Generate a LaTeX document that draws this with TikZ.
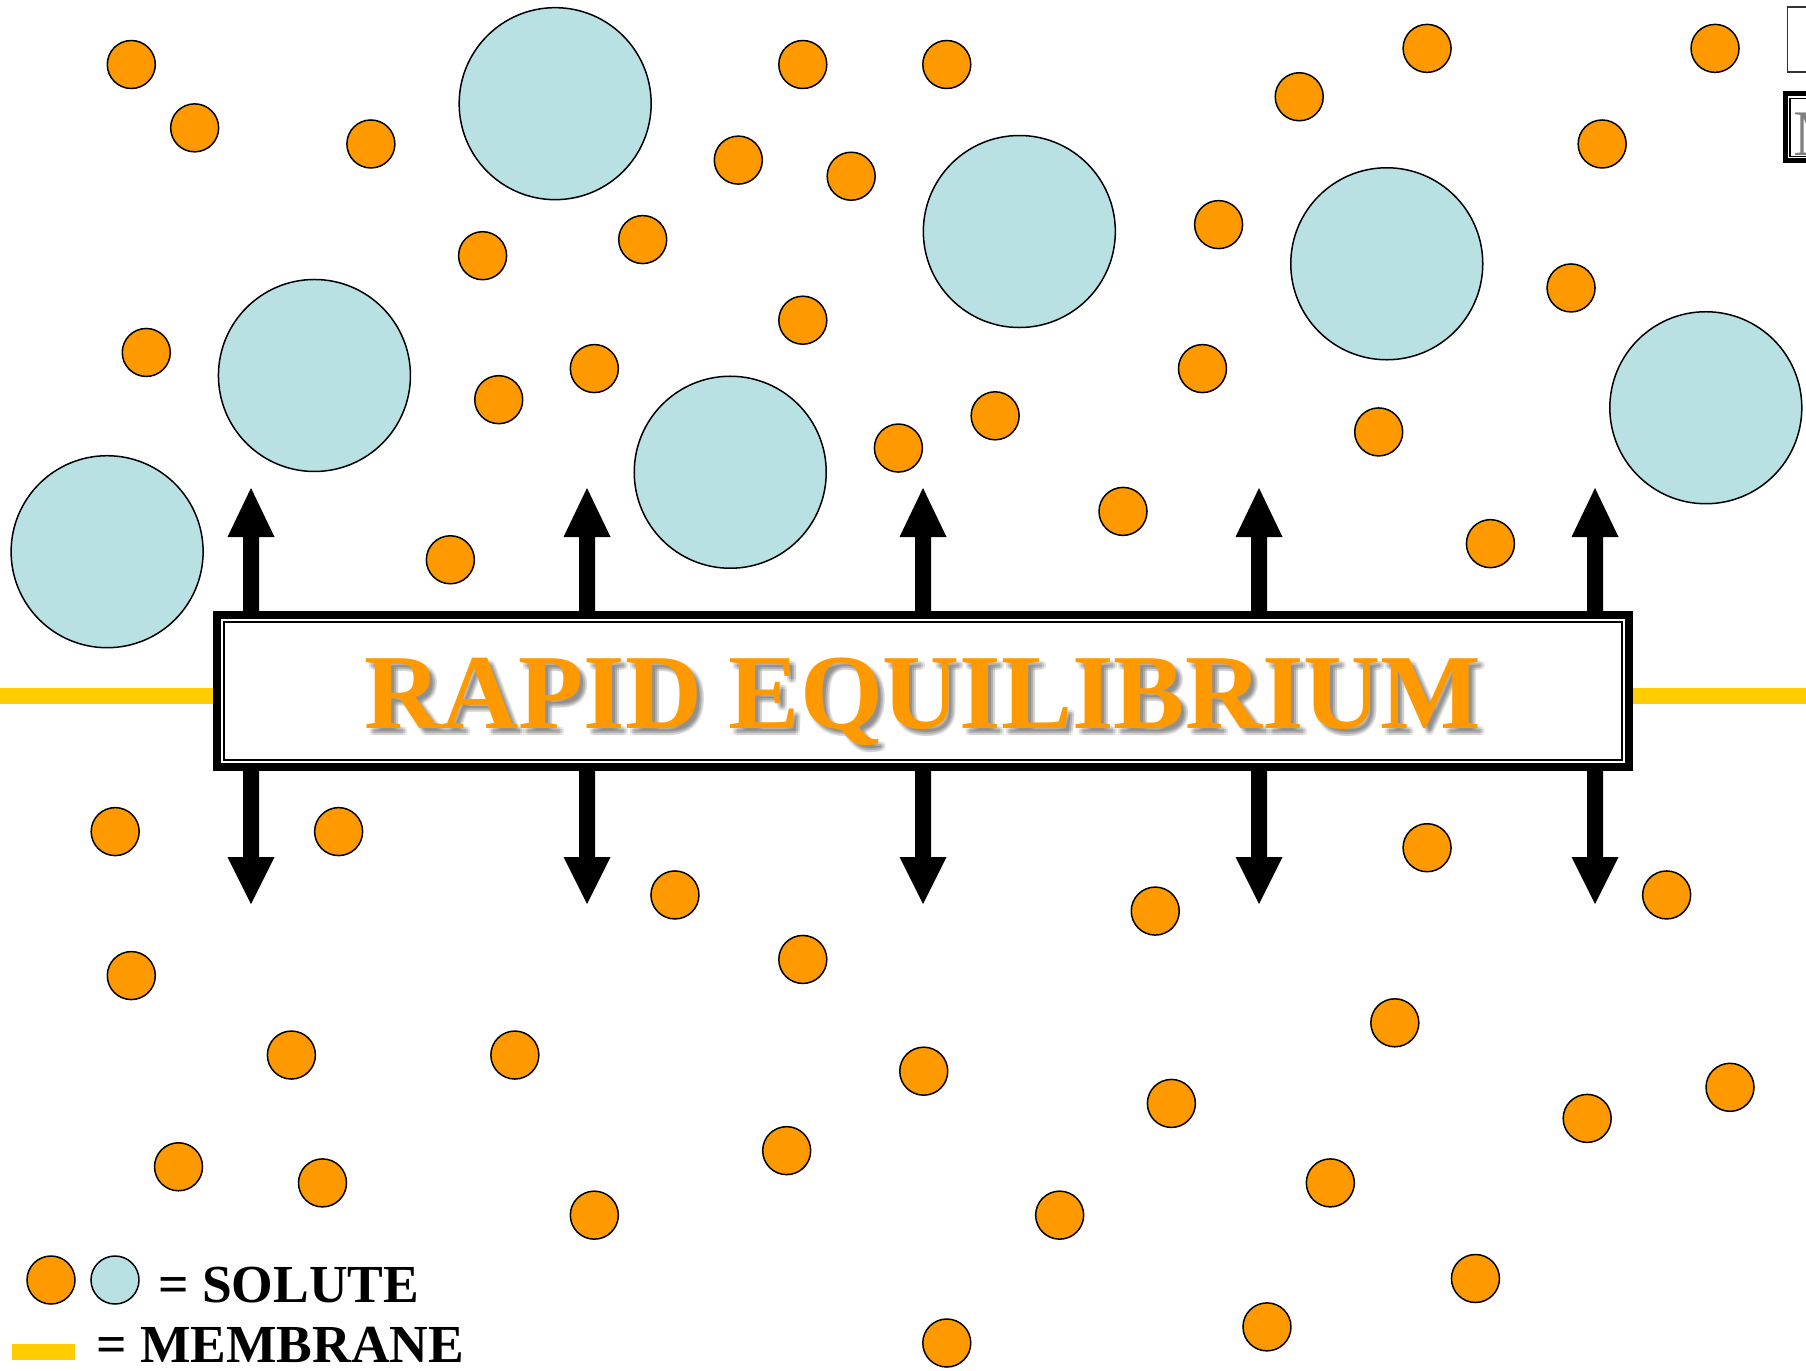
\documentclass[tikz,border=0pt]{standalone}
\usepackage{fontspec}
\setmainfont{Liberation Serif}
\definecolor{sorange}{HTML}{FF9900}
\definecolor{sblue}{HTML}{B9E0E3}
\definecolor{memb}{HTML}{FFCC00}
\begin{document}
\begin{tikzpicture}[x=1pt,y=-1pt,
  small/.style={draw=black,line width=1.5pt,fill=sorange},
  big/.style={draw=black,line width=1.5pt,fill=sblue},
  membrane/.style={draw=memb,line width=16pt},
  legendtext/.style={anchor=base west,inner sep=0pt,font=\bfseries\fontsize{53.5}{60}\selectfont},
  titletext/.style={anchor=base,inner sep=0pt,font=\bfseries\fontsize{106.6}{110}\selectfont}]
\useasboundingbox (0,0) rectangle (1806,1370);
% membrane
\draw[membrane] (0,696) -- (1806,696);
% solutes
\begin{scope}[x=1.1518pt,y=-1.1518pt]
\foreach \a/\b in {114/56,169/111,322/125,697/56,822/56,641/139,739/153,1128/84,1239/42,1489/42,1391/125,558/208,419/222,1058/195,697/278,1364/250,127/306,516/320,433/347,1044/320,864/361,780/389,1197/375,975/444,391/486,1294/472,
100/722,294/722,586/777,697/833,1003/791,1239/736,1447/777,114/847,253/916,447/916,802/930,1211/888,1017/958,1378/971,1502/944,155/1013,280/1027,683/999,516/1055,920/1055,1155/1027,1281/1110,1100/1152,822/1166}
  \draw[small] (\a,\b) circle[radius=24pt];
\foreach \a/\b in {482/90,885/201,1204/229,273/326,634/410,1481/354,93/479}
  \draw[big] (\a,\b) circle[radius=96pt];
\end{scope}
% arrows
\foreach \X in {251,587,923,1259,1595}{
  \fill[black] (\X-8,613) -- (\X-8,537) -- (\X-23.5,537) -- (\X,488) -- (\X+23.5,537) -- (\X+8,537) -- (\X+8,613) -- cycle;
  \fill[black] (\X-8,769) -- (\X-8,857) -- (\X-23.5,857) -- (\X,904) -- (\X+23.5,857) -- (\X+8,857) -- (\X+8,769) -- cycle;
}
% box
\node[draw=black,line width=8pt,fill=white,minimum width=1412pt,minimum height=152pt,inner sep=0pt,outer sep=0pt] (box) at (923,691) {};
\draw[line width=2pt] ([shift={(7,7)}]box.north west) rectangle ([shift={(-7,-7)}]box.south east);
% soft shadow
\foreach \dx/\dy [count=\i] in {3/3,5/5,7/7,3/7,7/3,5/3,3/5,7/5,5/7}
  \node[titletext,text=black,opacity=0.06] (titleshadow\i) at (923+\dx,728+\dy) {RAPID EQUILIBRIUM};
\node[titletext,text=sorange] (title) at (923,728) {RAPID EQUILIBRIUM};
% legend
\draw[small] (51,1280) circle[radius=24pt];
\draw[big] (115,1280) circle[radius=24pt];
\fill[memb] (12,1344) rectangle (75,1360);
\node[legendtext] (sol) at (158,1302) {= SOLUTE};
\node[legendtext] (mem) at (96,1362) {= MEMBRANE};
% partial boxes at top right
\draw[line width=1.5pt,draw=black!80] (1787.5,7) rectangle (1840,72);
\draw[line width=5pt] (1785.5,93.5) rectangle (1840,160.5);
\draw[line width=1.5pt] (1790,98.5) rectangle (1840,156.5);
\node[anchor=base west,inner sep=0pt,text=gray,font=\fontsize{65}{70}\selectfont] (mletter) at (1793,155) {M};
\end{tikzpicture}
\end{document}
